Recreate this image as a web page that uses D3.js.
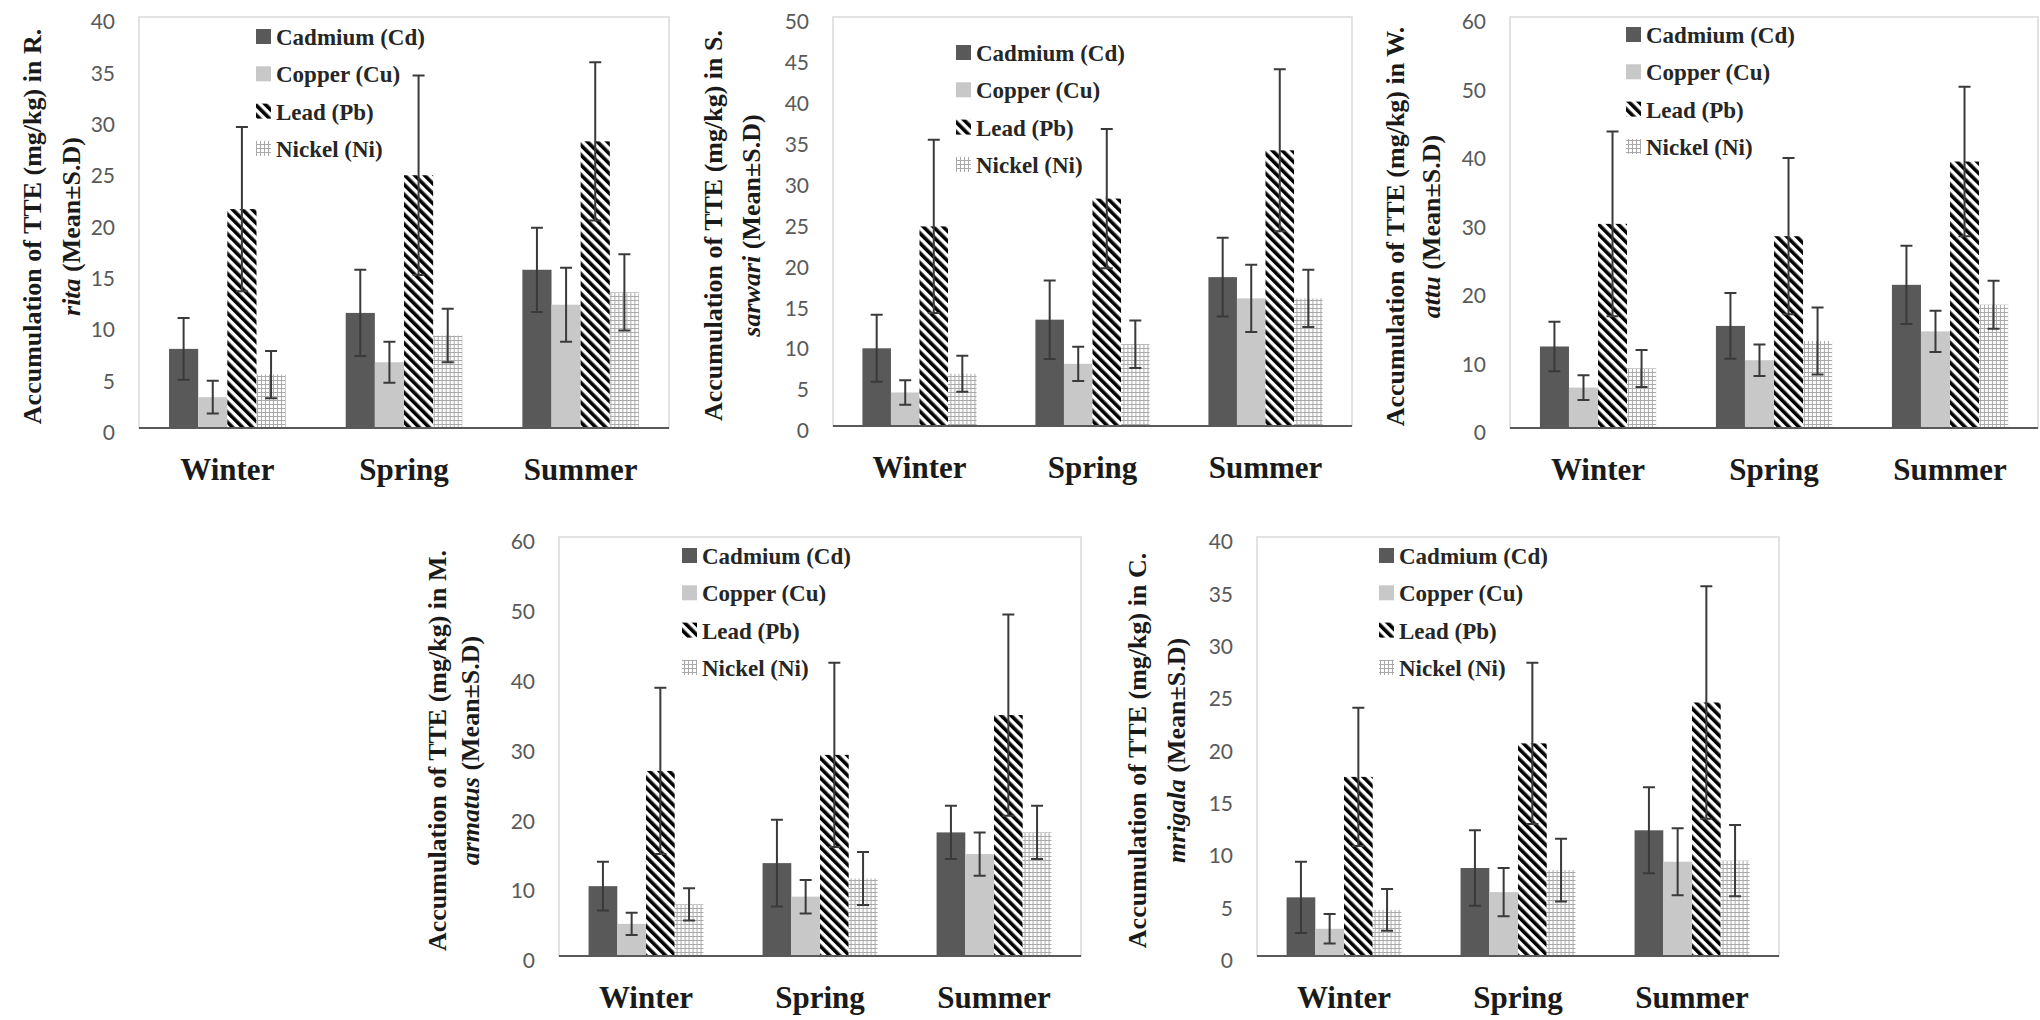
<!DOCTYPE html>
<meta charset="utf-8">
<style>
body { margin: 0; background: #fff; }
.tick text { font-family: Lato, "Open Sans", sans-serif; font-size: 21px; fill: #595959; }
.season { font-family: "Liberation Serif", serif; font-weight: bold; font-size: 31px; fill: #1a1a1a; }
.legtext { font-family: "Liberation Serif", serif; font-weight: bold; font-size: 23px; fill: #262626; }
.ytitle { font-family: "Liberation Serif", serif; font-weight: bold; font-size: 26px; fill: #1a1a1a; }
.frame { fill: none; stroke: #d9d9d9; stroke-width: 1.5px; }
.baseline { stroke: #595959; stroke-width: 2px; }
.err { stroke: #3a3a3a; stroke-width: 2px; fill: none; }
</style>
<body>
<script src="https://cdnjs.cloudflare.com/ajax/libs/d3/7.8.5/d3.min.js"></script>
<script>
var seasons = ["Winter", "Spring", "Summer"];
var metals = ["Cadmium (Cd)", "Copper (Cu)", "Lead (Pb)", "Nickel (Ni)"];

// rows = seasons, columns = Cd, Cu, Pb, Ni
var ritaMean = [[7.7, 3.0, 21.3, 5.2], [11.2, 6.4, 24.6, 9.0], [15.4, 12.0, 27.9, 13.2]];
var ritaSd   = [[3.0, 1.6, 8.0, 2.3], [4.2, 2.0, 9.7, 2.6], [4.1, 3.6, 7.7, 3.7]];

var sarwariMean = [[9.5, 4.1, 24.4, 6.4], [13.0, 7.6, 27.8, 10.0], [18.2, 15.6, 33.7, 15.6]];
var sarwariSd   = [[4.1, 1.5, 10.6, 2.2], [4.8, 2.1, 8.5, 2.9], [4.8, 4.1, 9.9, 3.5]];

var attuMean = [[11.9, 5.9, 29.8, 8.7], [14.9, 9.9, 28.0, 12.7], [20.9, 14.1, 38.9, 18.0]];
var attuSd   = [[3.6, 1.8, 13.5, 2.7], [4.8, 2.3, 11.4, 4.9], [5.7, 3.0, 10.9, 3.5]];

var armatusMean = [[10.0, 4.6, 26.5, 7.4], [13.3, 8.5, 28.8, 11.1], [17.7, 14.6, 34.5, 17.7]];
var armatusSd   = [[3.5, 1.6, 11.9, 2.3], [6.2, 2.4, 13.2, 3.8], [3.8, 3.1, 14.4, 3.8]];

var mrigalaMean = [[5.6, 2.6, 17.1, 4.4], [8.4, 6.1, 20.3, 8.2], [12.0, 9.0, 24.2, 9.1]];
var mrigalaSd   = [[3.4, 1.4, 6.6, 2.0], [3.6, 2.3, 7.7, 3.0], [4.1, 3.2, 11.1, 3.4]];

var fills = ["#595959", "#c8c8c8", "url(#hatch)", "url(#dots)"];

var panels = [
  {genus: "R.", species: "rita", mean: ritaMean, sd: ritaSd, yMax: 40, yStep: 5,
   box: [139, 669, 17, 428], legend: [256, 37], titleX: [41, 80]},
  {genus: "S.", species: "sarwari", mean: sarwariMean, sd: sarwariSd, yMax: 50, yStep: 5,
   box: [833, 1352, 17, 426], legend: [956, 53], titleX: [722, 760]},
  {genus: "W.", species: "attu", mean: attuMean, sd: attuSd, yMax: 60, yStep: 10,
   box: [1510, 2038, 17, 428], legend: [1626, 35], titleX: [1404, 1440]},
  {genus: "M.", species: "armatus", mean: armatusMean, sd: armatusSd, yMax: 60, yStep: 10,
   box: [559, 1081, 537, 956], legend: [682, 556], titleX: [446, 479]},
  {genus: "C.", species: "mrigala", mean: mrigalaMean, sd: mrigalaSd, yMax: 40, yStep: 5,
   box: [1257, 1779, 537, 956], legend: [1379, 556], titleX: [1146, 1185]}
];

var svg = d3.select("body").append("svg")
    .attr("width", 2040)
    .attr("height", 1020);

var defs = svg.append("defs");
var hatch = defs.append("pattern")
    .attr("id", "hatch")
    .attr("patternUnits", "userSpaceOnUse")
    .attr("width", 7).attr("height", 7)
    .attr("patternTransform", "rotate(-45)");
hatch.append("rect").attr("width", 7).attr("height", 7).attr("fill", "#fff");
hatch.append("rect").attr("width", 3.6).attr("height", 7).attr("fill", "#000");

var dots = defs.append("pattern")
    .attr("id", "dots")
    .attr("patternUnits", "userSpaceOnUse")
    .attr("width", 4).attr("height", 4);
dots.append("rect").attr("width", 4).attr("height", 4).attr("fill", "#fff");
dots.append("path").attr("d", "M0,0.5H4M0.5,0V4").attr("stroke", "#a9a9a9").attr("stroke-width", 1);

panels.forEach(function(p) {
  var x0 = p.box[0], x1 = p.box[1], top = p.box[2], base = p.box[3];

  var x = d3.scaleBand().domain(seasons).range([x0, x1])
      .paddingInner(0.34).paddingOuter(0.17);
  var xm = d3.scaleBand().domain(d3.range(metals.length)).range([0, x.bandwidth()]);
  var y = d3.scaleLinear().domain([0, p.yMax]).range([base, top]);

  var g = svg.append("g");

  g.append("rect").attr("class", "frame")
      .attr("x", x0).attr("y", top)
      .attr("width", x1 - x0).attr("height", base - top);

  g.append("g")
      .attr("transform", "translate(" + (x0 - 24) + ",5)")
      .call(d3.axisLeft(y).tickValues(d3.range(0, p.yMax + 0.1, p.yStep)).tickSize(0).tickPadding(0))
      .call(function(a) { a.select(".domain").remove(); });

  var groups = g.selectAll(".grp")
      .data(seasons)
      .join("g")
      .attr("transform", function(d) { return "translate(" + x(d) + ",0)"; });

  function cells(d, i) {
    return p.mean[i].map(function(v, j) { return {v: v, sd: p.sd[i][j], j: j}; });
  }

  groups.selectAll("rect")
      .data(cells)
      .join("rect")
      .attr("x", function(d) { return xm(d.j); })
      .attr("width", xm.bandwidth())
      .attr("y", function(d) { return y(d.v); })
      .attr("height", function(d) { return base - y(d.v); })
      .attr("fill", function(d) { return fills[d.j]; });

  groups.selectAll("path.err")
      .data(cells)
      .join("path")
      .attr("class", "err")
      .attr("d", function(d) {
        var cx = xm(d.j) + xm.bandwidth() / 2, hi = y(d.v + d.sd), lo = y(d.v - d.sd), w = 6;
        return "M" + cx + "," + hi + "V" + lo +
               "M" + (cx - w) + "," + hi + "H" + (cx + w) +
               "M" + (cx - w) + "," + lo + "H" + (cx + w);
      });

  g.append("line").attr("class", "baseline")
      .attr("x1", x0).attr("x2", x1).attr("y1", base).attr("y2", base);

  g.selectAll(".season")
      .data(seasons)
      .join("text")
      .attr("class", "season")
      .attr("x", function(d) { return x(d) + x.bandwidth() / 2; })
      .attr("y", base + 52)
      .attr("text-anchor", "middle")
      .text(function(d) { return d; });

  var leg = g.append("g");
  metals.forEach(function(m, j) {
    var ly = p.legend[1] + j * 37.3;
    leg.append("rect")
        .attr("x", p.legend[0]).attr("y", ly - 8)
        .attr("width", 15).attr("height", 15)
        .attr("fill", fills[j]);
    leg.append("text")
        .attr("class", "legtext")
        .attr("font-family", "Liberation Serif")
        .attr("x", p.legend[0] + 20).attr("y", ly)
        .attr("dy", "0.35em")
        .text(m);
  });

  var cy = (top + base) / 2 + 4;
  g.append("text").attr("class", "ytitle")
      .attr("transform", "translate(" + p.titleX[0] + "," + cy + ") rotate(-90)")
      .attr("text-anchor", "middle")
      .text("Accumulation of TTE (mg/kg) in " + p.genus);
  var t2 = g.append("text").attr("class", "ytitle")
      .attr("transform", "translate(" + p.titleX[1] + "," + cy + ") rotate(-90)")
      .attr("text-anchor", "middle");
  t2.append("tspan").attr("font-style", "italic").text(p.species);
  t2.append("tspan").text(" (Mean\u00B1S.D)");
});
</script>
</body>
